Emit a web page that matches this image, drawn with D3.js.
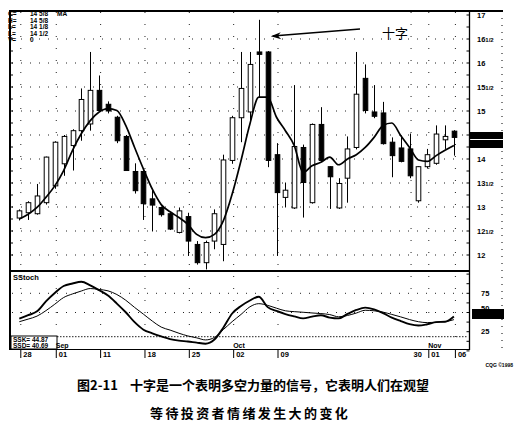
<!DOCTYPE html>
<html><head><meta charset="utf-8">
<script src="https://cdn.jsdelivr.net/npm/d3@7"></script>
<style>body{margin:0;background:#fff}svg{display:block}</style>
</head><body>
<svg id="c" width="516" height="432"></svg>
<script>
// ---------- data ----------
const opens  = [12.77,12.88,12.86,13.09,13.44,13.90,14.28,14.59,14.73,15.43,15.14,14.87,14.47,13.74,13.74,13.17,12.99,12.86,12.47,12.80,12.22,11.84,12.29,12.22,13.97,14.86,14.98,16.23,16.23,14.09,13.20,12.98,14.24,13.09,14.72,13.84,12.98,13.60,14.24,15.68,14.98,14.96,14.35,14.23,14.21,13.13,13.84,13.91,14.40,14.58];
const highs  = [12.95,13.12,13.48,14.05,14.37,14.50,14.62,15.47,16.23,15.74,15.20,14.90,14.50,13.91,13.76,13.35,13.01,12.88,12.99,12.88,12.29,12.30,12.95,14.09,14.90,16.23,16.23,16.90,16.25,14.33,13.51,15.54,14.30,14.74,15.08,13.85,13.60,14.47,16.23,15.97,15.54,15.19,14.45,14.49,14.53,13.85,14.21,14.70,14.70,14.60];
const lows   = [12.72,12.73,12.84,13.05,13.38,13.65,13.76,14.38,14.59,14.98,14.95,14.33,13.76,13.28,12.73,12.49,12.80,12.52,12.45,11.98,11.80,11.70,12.12,11.87,13.90,14.35,14.77,15.29,13.83,11.98,12.99,12.96,12.78,13.07,13.95,12.96,12.96,13.09,14.20,14.95,14.85,14.30,13.62,13.93,13.60,13.09,13.80,13.88,14.21,14.07];
const closes = [12.92,13.09,13.23,14.04,14.35,14.47,14.59,15.24,15.43,15.01,15.00,14.38,13.76,13.34,13.07,13.04,12.84,12.54,12.92,12.29,11.84,12.26,12.86,13.98,14.86,15.47,15.97,16.18,13.97,13.30,13.35,14.26,13.51,14.72,13.97,13.63,13.49,14.21,15.35,15.01,14.89,14.32,14.07,13.95,13.65,13.84,14.09,14.52,14.47,14.45];
const maLine = [12.75,12.85,12.99,13.20,13.44,13.76,14.18,14.53,14.80,14.98,15.05,15.01,14.70,14.24,13.79,13.37,13.05,12.90,12.78,12.64,12.43,12.36,12.43,12.71,13.27,13.97,14.73,15.29,15.29,14.87,14.59,14.28,13.72,13.86,13.93,14.04,13.88,14.00,14.09,14.24,14.45,14.70,14.75,14.49,14.24,13.98,13.95,14.07,14.18,14.28];
const ssk = [42,46.5,51.5,64.5,75.5,84.5,87.8,90,85.3,79,72,61.6,50.3,37.4,27.6,22.9,18.9,15.4,13.4,12.3,10.7,9.4,14.8,30.2,48.7,58.5,65.6,70.6,57,52,48,45,42.4,44.6,46.4,43.4,42.3,48.1,53.3,56.3,54,49.2,43.4,38.9,34.8,33,34.7,37.5,38,44.87];
const ssd = [38,41.4,45.3,52.4,60.8,69.5,74.2,78,81.2,80,78.2,73.4,66,56.6,47.8,38.8,31,27.1,23,19.5,17,14.3,17.5,27.7,38.1,47.5,57.4,61.5,59.3,55.6,52.2,51.1,50.3,49.4,48.6,47.3,44.4,46.1,49.3,52.9,52.2,50.5,47.5,44.3,40.8,38,36.8,37.5,38.1,40.69];
const dateIdx    = [0,4,9,14,19,24,29,44,46,49];
const dateLabels = ["28","01","11","18","25","02","09","30","01","06"];
const monthIdx    = [4,24,46];
const monthLabels = ["Sep","Oct","Nov"];
const priceTicks  = [17,16.5,16,15.5,15,14,13.5,13,12.5,12];
const priceLabels = ["17","16|1/2","16","15|1/2","15","14","13|1/2","13","12|1/2","12"];
const stochTicks  = [75,50,25];
const legendKeys  = ["C=","H=","L=","L=","V="];
const legendVals  = ["14 5/8","14 5/8","14 1/8","14 1/2","0"];

// ---------- scales ----------
const svg = d3.select("#c");
const n = closes.length;
const x = d3.scaleLinear().domain([0, n-1]).range([19.3, 453.9]);
const y = d3.scaleLinear().domain([12, 17]).range([255, 15]);
const ys = d3.scaleLinear().domain([0, 100]).range([350.9, 274.1]);
const FONT = "'Liberation Sans', Arial, sans-serif";

// ---------- grids ----------
const g = svg.append("g");
const halfLevels = d3.range(12, 17, 0.5);
g.selectAll(".hg").data(halfLevels).join("line")
  .attr("x1", 12).attr("x2", 468).attr("y1", d=>y(d)).attr("y2", d=>y(d))
  .attr("stroke", "#222").attr("stroke-width", 1).attr("stroke-dasharray", "1,8");
g.selectAll(".vg").data(dateIdx).join("line")
  .attr("x1", d=>x(d)+1.5).attr("x2", d=>x(d)+1.5).attr("y1", 12).attr("y2", 348)
  .attr("stroke", "#222").attr("stroke-dasharray", "1,11");
g.selectAll(".sg").data([75,50]).join("line")
  .attr("x1", 12).attr("x2", 468).attr("y1", d=>ys(d)).attr("y2", d=>ys(d))
  .attr("stroke", "#222").attr("stroke-dasharray", "1,8");
g.append("line").attr("x1", 57).attr("x2", 468).attr("y1", ys(18.5)).attr("y2", ys(18.5))
  .attr("stroke", "#222").attr("stroke-dasharray", "1.5,1.5");

// ---------- frame ----------
const frame = svg.append("g").attr("stroke", "#000").attr("fill", "none");
frame.append("line").attr("x1", 9).attr("x2", 503).attr("y1", 11).attr("y2", 11).attr("stroke-width", 2);
frame.append("line").attr("x1", 10).attr("x2", 10).attr("y1", 10).attr("y2", 350).attr("stroke-width", 2);
frame.append("line").attr("x1", 10).attr("x2", 470).attr("y1", 271).attr("y2", 271).attr("stroke-width", 2);
frame.append("line").attr("x1", 10).attr("x2", 470).attr("y1", 349.5).attr("y2", 349.5).attr("stroke-width", 1);
frame.append("line").attr("x1", 469.5).attr("x2", 469.5).attr("y1", 11).attr("y2", 350).attr("stroke-width", 1.3);
frame.append("line").attr("x1", 502).attr("x2", 502).attr("y1", 11).attr("y2", 350).attr("stroke-width", 1).attr("stroke-dasharray", "1,6");
// axis ticks
const quarter = d3.range(12, 17.01, 0.25);
frame.selectAll(".lt").data(quarter).join("line")
  .attr("x1", 10).attr("x2", 13).attr("y1", d=>y(d)).attr("y2", d=>y(d));
frame.selectAll(".rt").data(quarter).join("line")
  .attr("x1", 466.5).attr("x2", 469.5).attr("y1", d=>y(d)).attr("y2", d=>y(d));
frame.selectAll(".st").data(d3.range(0, 101, 12.5)).join("line")
  .attr("x1", 466.5).attr("x2", 469.5).attr("y1", d=>ys(d)).attr("y2", d=>ys(d));

// ---------- candles ----------
const cg = svg.append("g");
const bw = 4.6;
cg.selectAll(".wick").data(d3.range(n)).join("line")
  .attr("x1", i=>Math.round(x(i))+0.5).attr("x2", i=>Math.round(x(i))+0.5)
  .attr("y1", i=>y(highs[i])).attr("y2", i=>y(lows[i]))
  .attr("stroke", "#000").attr("stroke-width", 1);
cg.selectAll(".body").data(d3.range(n)).join("rect")
  .attr("x", i=>Math.round(x(i))+0.5-bw/2)
  .attr("width", bw)
  .attr("y", i=>y(Math.max(opens[i], closes[i])))
  .attr("height", i=>Math.max(1.5, Math.abs(y(opens[i]) - y(closes[i]))))
  .attr("fill", i=>closes[i] >= opens[i] ? "#fff" : "#000")
  .attr("stroke", "#000").attr("stroke-width", 1);

// MA
svg.append("path").datum(maLine)
  .attr("d", d3.line().x((d,i)=>x(i)).y(d=>y(d)).curve(d3.curveMonotoneX))
  .attr("fill", "none").attr("stroke", "#000").attr("stroke-width", 1.7);

// stochastic
svg.append("path").datum(ssd)
  .attr("d", d3.line().x((d,i)=>x(i)).y(d=>ys(d)).curve(d3.curveMonotoneX))
  .attr("fill", "none").attr("stroke", "#000").attr("stroke-width", 1);
svg.append("path").datum(ssk)
  .attr("d", d3.line().x((d,i)=>x(i)).y(d=>ys(d)).curve(d3.curveMonotoneX))
  .attr("fill", "none").attr("stroke", "#000").attr("stroke-width", 1.9);

// ---------- price labels ----------
const pl = svg.append("g").attr("font-family", FONT).attr("font-weight", "bold").attr("font-size", 7.5).attr("fill", "#000");
priceTicks.forEach((p, k) => {
  const parts = priceLabels[k].split("|");
  const t = pl.append("text").attr("x", 477).attr("y", y(p)).attr("dy", "0.35em");
  t.append("tspan").text(parts[0]);
  if (parts[1]) t.append("tspan").attr("font-size", 6).text(parts[1]);
});
// current price marker
svg.append("rect").attr("x", 470).attr("y", 132).attr("width", 33).attr("height", 7).attr("fill", "#000");
svg.append("rect").attr("x", 470).attr("y", 140).attr("width", 33).attr("height", 8).attr("fill", "#000");

// stoch labels
svg.append("g").attr("font-family", FONT).attr("font-weight", "bold").attr("font-size", 7.5)
  .selectAll("text").data(stochTicks).join("text")
  .attr("x", 481).attr("y", d=>ys(d) - (d===50?4:0)).attr("dy", "0.35em").text(d=>d);
svg.append("rect").attr("x", 472).attr("y", 309).attr("width", 32).attr("height", 10).attr("fill", "#000");

// ---------- legends ----------
const lg = svg.append("g").attr("font-family", FONT).attr("font-weight", "bold").attr("font-size", 6.5);
legendKeys.forEach((k, j) => {
  lg.append("text").attr("x", 8).attr("y", 16 + j*6.6).text(k);
  lg.append("text").attr("x", 30).attr("y", 16 + j*6.6).text(legendVals[j]);
});
lg.append("text").attr("x", 57).attr("y", 16).text("MA");

svg.append("text").attr("x", 13).attr("y", 280).attr("font-family", FONT).attr("font-weight", "bold")
  .attr("font-size", 7.5).text("SStoch");
svg.append("rect").attr("x", 11).attr("y", 336).attr("width", 46).attr("height", 13)
  .attr("fill", "#fff").attr("stroke", "#000").attr("stroke-width", 1);
svg.append("text").attr("x", 13).attr("y", 341.5).attr("font-family", FONT).attr("font-weight", "bold")
  .attr("font-size", 6.5).text("SSK=  " + ssk[n-1].toFixed(2));
svg.append("text").attr("x", 13).attr("y", 348).attr("font-family", FONT).attr("font-weight", "bold")
  .attr("font-size", 6.5).text("SSD=  " + ssd[n-1].toFixed(2));

// ---------- date axis ----------
const da = svg.append("g").attr("font-family", FONT).attr("font-weight", "bold").attr("font-size", 7.5);
dateIdx.forEach((i, k) => {
  const tx = x(i) + 1.5;
  if (dateLabels[k] !== "30")
    da.append("line").attr("x1", tx).attr("x2", tx).attr("y1", 350).attr("y2", 358).attr("stroke", "#000");
  da.append("text").attr("x", tx + 2.5).attr("y", 357).text(dateLabels[k]);
});
monthIdx.forEach((i, k) => {
  da.append("text").attr("x", x(i) + 1).attr("y", 348).attr("font-size", 7).text(monthLabels[k]);
});
svg.append("text").attr("x", 513).attr("y", 367).attr("text-anchor", "end").attr("font-family", FONT).attr("font-weight", "bold")
  .attr("font-size", 5).text("CQG ©1998");

// ---------- annotation ----------
svg.append("line").attr("x1", 360).attr("y1", 29).attr("x2", x(27)+14).attr("y2", 36)
  .attr("stroke", "#000").attr("stroke-width", 1.4);
svg.append("path").attr("d", d3.line()([[x(27)+12, 36.3],[x(27)+22, 32.2],[x(27)+19, 35.8],[x(27)+22.5, 39.3]]) + "Z").attr("fill", "#000");
svg.append("text").attr("x", 382).attr("y", 38).attr("font-family", "'Noto Sans CJK SC'")
  .attr("font-size", 13).attr("font-weight", 400).attr("fill", "#000").text("十字");

// ---------- caption ----------
const cap = svg.append("g").attr("font-family", "'Noto Sans CJK SC'").attr("font-weight", "bold").attr("fill", "#000");
cap.append("text").attr("x", 77).attr("y", 390).attr("font-size", 13).text("图2-11");
cap.append("text").attr("x", 130).attr("y", 390).attr("font-size", 13).text("十字是一个表明多空力量的信号，它表明人们在观望");
cap.append("text").attr("x", 150).attr("y", 418).attr("font-size", 13).attr("letter-spacing", 2.4).text("等待投资者情绪发生大的变化");
</script>
</body></html>
